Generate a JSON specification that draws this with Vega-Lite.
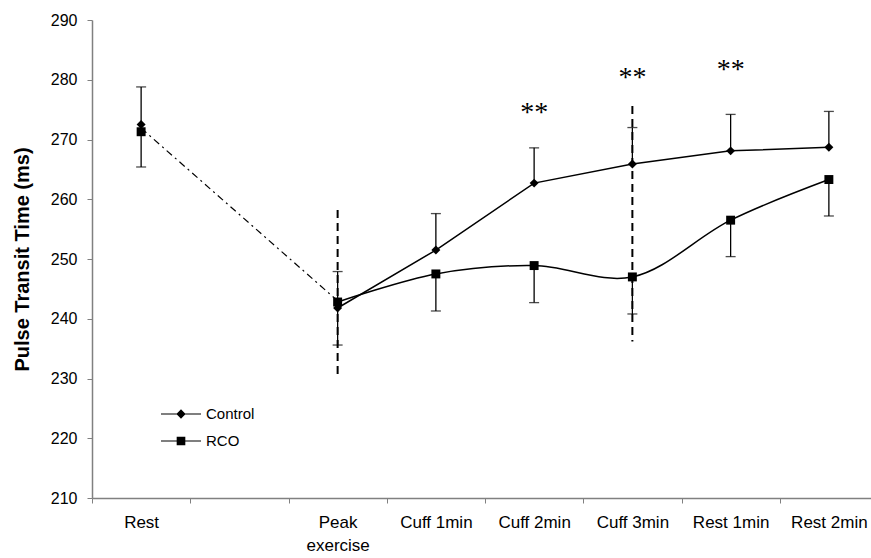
{
  "$schema": "https://vega.github.io/schema/vega-lite/v6.json",
  "width": 779,
  "height": 478,
  "autosize": {"type": "none"},
  "padding": {"left": 92, "top": 20, "right": 0, "bottom": 60},
  "background": "white",
  "config": {"view": {"stroke": null}, "font": "Liberation Sans"},
  "resolve": {"scale": {"shape": "independent"}, "legend": {"shape": "independent"}},
  "datasets": {
    "points": [
      {"time": "Rest", "series": "Control", "value": 272.5, "err": 278.8},
      {"time": "Peak exercise", "series": "Control", "value": 241.8, "err": 235.6},
      {"time": "Cuff 1min", "series": "Control", "value": 251.5, "err": 257.6},
      {"time": "Cuff 2min", "series": "Control", "value": 262.7, "err": 268.6},
      {"time": "Cuff 3min", "series": "Control", "value": 265.9, "err": 272.0},
      {"time": "Rest 1min", "series": "Control", "value": 268.1, "err": 274.2},
      {"time": "Rest 2min", "series": "Control", "value": 268.7, "err": 274.7},
      {"time": "Rest", "series": "RCO", "value": 271.3, "err": 265.4},
      {"time": "Peak exercise", "series": "RCO", "value": 242.8, "err": 247.9},
      {"time": "Cuff 1min", "series": "RCO", "value": 247.5, "err": 241.3},
      {"time": "Cuff 2min", "series": "RCO", "value": 248.9, "err": 242.7},
      {"time": "Cuff 3min", "series": "RCO", "value": 247.0, "err": 240.8},
      {"time": "Rest 1min", "series": "RCO", "value": 256.5, "err": 250.4},
      {"time": "Rest 2min", "series": "RCO", "value": 263.3, "err": 257.2}
    ],
    "link": [
      {"time": "Rest", "value": 271.9},
      {"time": "Peak exercise", "value": 243.0}
    ],
    "vlines": [
      {"time": "Peak exercise", "value": 258.2, "end": 229.9},
      {"time": "Cuff 3min", "value": 275.6, "end": 236.2}
    ],
    "stars": [
      {"time": "Cuff 2min", "value": 275.1, "label": "**"},
      {"time": "Cuff 3min", "value": 280.9, "label": "**"},
      {"time": "Rest 1min", "value": 282.3, "label": "**"}
    ]
  },
  "encoding": {
    "x": {
      "field": "time",
      "type": "nominal",
      "scale": {
        "type": "band",
        "domain": ["Rest", " ", "Peak exercise", "Cuff 1min", "Cuff 2min", "Cuff 3min", "Rest 1min", "Rest 2min"],
        "range": [0, 786],
        "paddingInner": 0,
        "paddingOuter": 0
      },
      "axis": {
        "title": null,
        "grid": false,
        "domainColor": "#808080",
        "domainWidth": 1.5,
        "tickColor": "#808080",
        "tickSize": 5,
        "tickWidth": 1,
        "tickBand": "extent",
        "labelFont": "Liberation Sans",
        "labelFontSize": 17,
        "labelColor": "black",
        "labelPadding": 11,
        "labelAngle": 0,
        "labelOverlap": false,
        "labelLineHeight": 23,
        "labelBaseline": "top",
        "labelExpr": "datum.value == 'Peak exercise' ? ['Peak', 'exercise'] : datum.value"
      }
    }
  },
  "layer": [
    {
      "data": {"name": "vlines"},
      "mark": {"type": "rule", "color": "black", "strokeWidth": 2, "strokeDash": [8, 5]},
      "encoding": {
        "y": {
          "field": "value",
          "type": "quantitative",
          "title": "Pulse Transit Time (ms)",
          "scale": {"domain": [210, 290], "nice": false, "zero": false},
          "axis": {
            "grid": false,
            "values": [210, 220, 230, 240, 250, 260, 270, 280, 290],
            "domainColor": "#808080",
            "domainWidth": 1.5,
            "tickColor": "#808080",
            "tickSize": 5,
            "labelFont": "Liberation Sans",
            "labelFontSize": 16,
            "labelColor": "black",
            "labelPadding": 10,
            "titleFont": "Liberation Sans",
            "titleFontSize": 20,
            "titleFontWeight": "bold",
            "titleColor": "black",
            "titleAngle": -90,
            "titleAlign": "center",
            "titleBaseline": "alphabetic",
            "titleX": -64,
            "titleY": 239
          }
        },
        "y2": {"field": "end"}
      }
    },
    {
      "data": {"name": "link"},
      "mark": {"type": "line", "color": "black", "strokeWidth": 1.2, "strokeDash": [7, 4, 2, 4]},
      "encoding": {
        "y": {"field": "value", "type": "quantitative", "title": "Pulse Transit Time (ms)"}
      }
    },
    {
      "data": {"name": "points"},
      "mark": {"type": "rule", "color": "black", "strokeWidth": 1.3},
      "encoding": {
        "y": {"field": "value", "type": "quantitative", "title": "Pulse Transit Time (ms)"},
        "y2": {"field": "err"}
      }
    },
    {
      "data": {"name": "points"},
      "mark": {"type": "tick", "color": "black", "size": 10, "thickness": 1.3},
      "encoding": {
        "y": {"field": "err", "type": "quantitative", "title": "Pulse Transit Time (ms)"}
      }
    },
    {
      "data": {"name": "points"},
      "transform": [{"filter": "datum.series == 'Control' && datum.time != 'Rest'"}],
      "mark": {"type": "line", "color": "black", "strokeWidth": 1.5, "interpolate": "linear"},
      "encoding": {
        "y": {"field": "value", "type": "quantitative", "title": "Pulse Transit Time (ms)"}
      }
    },
    {
      "data": {"name": "points"},
      "transform": [{"filter": "datum.series == 'RCO' && datum.time != 'Rest'"}],
      "mark": {"type": "line", "color": "black", "strokeWidth": 1.5, "interpolate": "catmull-rom"},
      "encoding": {
        "y": {"field": "value", "type": "quantitative", "title": "Pulse Transit Time (ms)"}
      }
    },
    {
      "data": {"name": "points"},
      "mark": {"type": "point", "filled": true, "color": "black", "opacity": 1, "size": 80},
      "encoding": {
        "y": {"field": "value", "type": "quantitative", "title": "Pulse Transit Time (ms)"},
        "shape": {
          "field": "series",
          "type": "nominal",
          "scale": {"domain": ["Control", "RCO"], "range": ["diamond", "square"]},
          "legend": null
        }
      }
    },
    {
      "data": {"name": "points"},
      "mark": {"type": "point", "filled": true, "color": "black", "opacity": 0, "size": 256},
      "encoding": {
        "y": {"field": "value", "type": "quantitative", "title": "Pulse Transit Time (ms)"},
        "shape": {
          "field": "series",
          "type": "nominal",
          "scale": {
            "domain": ["Control", "RCO"],
            "range": [
              "M-2.5,-0.07H2.5V0.07H-2.5ZM0,-0.58L0.58,0L0,0.58L-0.58,0Z",
              "M-2.5,-0.07H2.5V0.07H-2.5ZM-0.54,-0.54H0.54V0.54H-0.54Z"
            ]
          },
          "legend": {
            "title": null,
            "orient": "none",
            "legendX": 80,
            "legendY": 385,
            "padding": 0,
            "symbolSize": 256,
            "symbolOpacity": 1,
            "symbolFillColor": "black",
            "labelOffset": 16,
            "labelFont": "Liberation Sans",
            "labelFontSize": 15,
            "labelColor": "black",
            "rowPadding": 10
          }
        }
      }
    },
    {
      "data": {"name": "stars"},
      "mark": {"type": "text", "font": "Liberation Serif", "fontSize": 28, "color": "black", "baseline": "middle", "align": "center", "dy": 4},
      "encoding": {
        "y": {"field": "value", "type": "quantitative", "title": "Pulse Transit Time (ms)"},
        "text": {"field": "label"}
      }
    }
  ]
}
